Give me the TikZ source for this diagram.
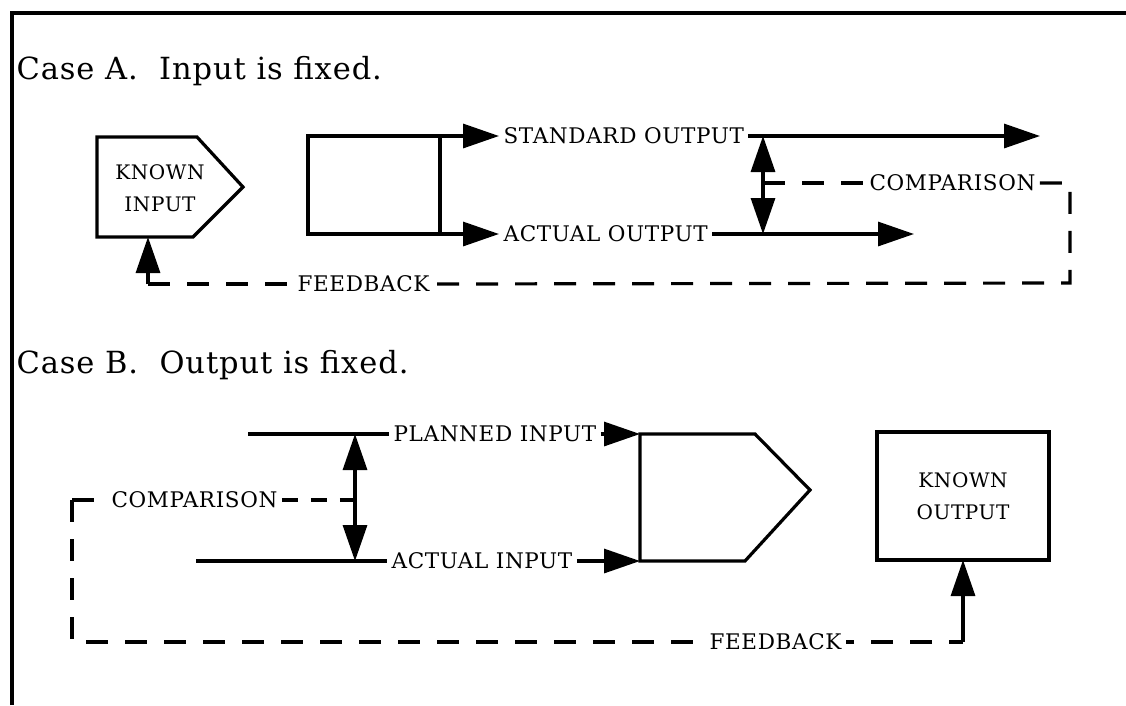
\documentclass[tikz,border=0pt]{standalone}
\usepackage{fontspec}
\setmainfont{DejaVu Serif}
\newfontfamily\headfont[LetterSpace=3]{DejaVu Serif}
\newfontfamily\lblfont[LetterSpace=3]{DejaVu Serif}
\usetikzlibrary{arrows.meta}
\begin{document}
\begin{tikzpicture}[x=1pt,y=-1pt,line width=3.2pt,line join=miter,
  head/.style={inner sep=0pt,anchor=base west,font=\headfont\fontsize{30.5}{34}\selectfont},
  lbl/.style={inner xsep=3pt,inner ysep=0pt,anchor=west,font=\lblfont\fontsize{21.5}{24}\selectfont},
  boxtxt/.style={align=center,font=\lblfont\fontsize{20}{32}\selectfont},
  arr/.style={-{Triangle[length=36pt,width=24pt]}},
  dbl/.style={{Triangle[length=36pt,width=24pt]}-{Triangle[length=36pt,width=24pt]}},
  dsh/.style={dash pattern=on 22pt off 17pt}]
\useasboundingbox (0,0) rectangle (1126,705);
% frame
\draw (12,705) -- (12,13) -- (1126,13);
% ---------------- Case A ----------------
\node[head] (caseA) at (15,79) {Case A.\hspace{0.7em}Input is fixed.};
\draw (97,137) -- (197,137) -- (243,187) -- (193,237) -- (97,237) -- cycle;
\node[boxtxt] (kin) at (160,188) {KNOWN\\INPUT};
\coordinate (kinB) at (148,237);
\node[draw,minimum width=132pt,minimum height=98pt,inner sep=0pt,outer sep=0pt] (boxA) at (374,185) {};
\node[lbl] (stdA) at (499,136) {STANDARD OUTPUT};
\node[lbl] (actA) at (499,234) {ACTUAL OUTPUT};
\draw[arr] (boxA.north east) -- (stdA.west);
\draw[arr] (boxA.south east) -- (actA.west);
\coordinate (stdEnd) at (1040,136);
\coordinate (actEnd) at (914,234);
\draw[arr] (stdA.east) -- (stdEnd);
\draw[arr] (actA.east) -- (actEnd);
\coordinate (cAt) at (763,136);
\coordinate (cAb) at (763,234);
\coordinate (cAm) at (763,183);
\draw[dbl] (cAt) -- (cAb);
\node[lbl] (cmpA) at (865,183) {COMPARISON};
\node[lbl] (fbA) at (293,284) {FEEDBACK};
\coordinate (cArc) at (1070,183);
\coordinate (fbArc) at (1070,283);
\coordinate (fbAlc) at (148,284);
\draw[dsh] (cAm) -- (cmpA.west);
\draw[dsh] (cmpA.east) -- (cArc) -- (fbArc) -- (fbA.east);
\draw[dsh] (fbAlc) -- (fbA.west);
\draw[arr] (fbAlc) -- (kinB);
% ---------------- Case B ----------------
\node[head] (caseB) at (15,373) {Case B.\hspace{0.7em}Output is fixed.};
\coordinate (pT) at (640,434);
\coordinate (pB) at (640,561);
\draw (pT) -- (755,434) -- (810,490) -- (745,561) -- (pB) -- cycle;
\node[draw,outer sep=0pt,minimum width=172pt,minimum height=128pt,inner sep=0pt,boxtxt] (kout) at (963,496) {KNOWN\\OUTPUT};
\coordinate (plS) at (248,434);
\coordinate (aiS) at (196,561);
\node[lbl] (plB) at (389,434) {PLANNED INPUT};
\node[lbl] (aiB) at (387,561) {ACTUAL INPUT};
\draw (plS) -- (plB.west);
\draw (aiS) -- (aiB.west);
\draw[arr] (plB.east) -- (pT);
\draw[arr] (aiB.east) -- (pB);
\coordinate (cBt) at (355,434);
\coordinate (cBb) at (355,561);
\coordinate (cBm) at (355,500);
\draw[dbl] (cBt) -- (cBb);
\node[lbl] (cmpB) at (107,500) {COMPARISON};
\node[lbl] (fbB) at (705,642) {FEEDBACK};
\coordinate (cBlc) at (72,500);
\coordinate (fbBlc) at (72,642);
\coordinate (fbBrc) at (963,642);
\draw[dash pattern=on 16pt off 13pt] (cmpB.east) -- (cBm);
\draw[dsh] (cBlc) -- (cmpB.west);
\draw[dsh] (cBlc) -- (fbBlc) -- (fbB.west);
\draw[dash pattern=on 22pt off 17pt,dash phase=8pt] (fbBrc) -- (fbB.east);
\draw[arr] (fbBrc) -- (kout.south);
\end{tikzpicture}
\end{document}
